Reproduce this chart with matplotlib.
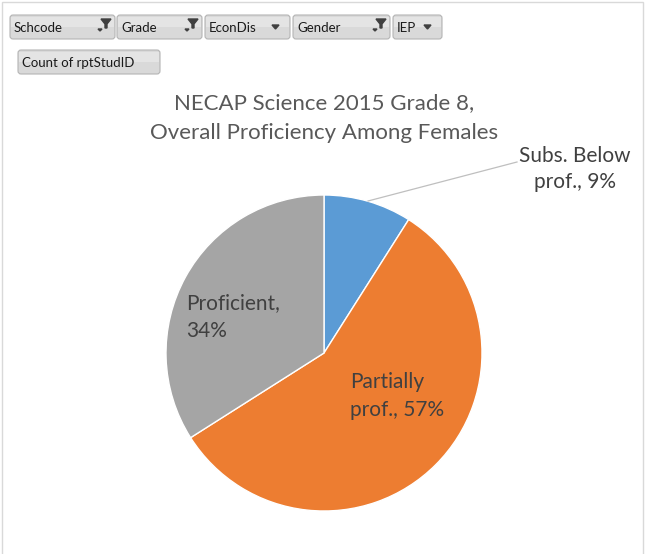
import matplotlib.pyplot as plt
from matplotlib.patches import FancyBboxPatch, Rectangle, Polygon

plt.rcParams['font.family'] = ['Lato', 'DejaVu Sans']

# Data
labels = ['Subs. Below\nprof., 9%', 'Partially\nprof., 57%', 'Proficient,\n34%']
shares = [9, 57, 34]
colors = ['#5B9BD5', '#ED7D31', '#A5A5A5']
title = 'NECAP Science 2015 Grade 8,\nOverall Proficiency Among Females'

# Pivot field buttons
fields = ['Schcode', 'Grade', 'EconDis', 'Gender', 'IEP']
filtered = [True, True, False, True, False]
value_field = 'Count of rptStudID'

W, H = 645, 554
fig = plt.figure(figsize=(W / 100, H / 100), dpi=100)
ax = fig.add_axes([0, 0, 1, 1])


def Y(py):
    # pixel row -> data y
    return H - py


# Pie
cx, cy, r = 324, Y(353), 158
wedges, _ = ax.pie(shares, colors=colors, startangle=90, counterclock=False,
                   center=(cx, cy), radius=r, frame=True,
                   wedgeprops=dict(edgecolor='white', linewidth=1))

ax.set_xlim(0, W)
ax.set_ylim(0, H)
ax.set_aspect('equal')
ax.axis('off')

# outer border
ax.add_patch(Rectangle((2, Y(H + 10)), W - 4, H + 8, fill=False,
                       edgecolor='#d9d9d9', linewidth=1))

# Title
ax.text(324, Y(118), title, ha='center', va='center', fontsize=16,
        color='#595959', linespacing=1.6)

# Data labels
txt_col = '#404040'
ax.text(186, Y(317), labels[2], ha='left', va='center', fontsize=15,
        color=txt_col, linespacing=1.45)
ax.text(350, Y(396), labels[1], ha='left', va='center', fontsize=15,
        color=txt_col, linespacing=1.45)
ax.text(575, Y(169), labels[0], ha='center', va='center', fontsize=15,
        color=txt_col, linespacing=1.4)
# leader line for the small slice
ax.plot([368, 517], [Y(201), Y(162)], color='#bfbfbf', linewidth=0.9)

# Field buttons
btn_x = [10, 117, 205, 293, 393]
btn_w = [105, 85, 85, 97, 49]


def button(x, y, w, h, text):
    ax.add_patch(FancyBboxPatch((x, Y(y + h)), w, h,
                                boxstyle='round,pad=0,rounding_size=3',
                                facecolor='#d9d9d9', edgecolor='#b4b4b4',
                                linewidth=0.8))
    ax.add_patch(Rectangle((x + 1, Y(y + h / 2)), w - 2, h / 2 - 2,
                           facecolor='#e4e4e4', edgecolor='none'))
    ax.text(x + 4, Y(y + h / 2 + 1), text, ha='left', va='center',
            fontsize=9.5, color='#1a1a1a')


for name, x, w, filt in zip(fields, btn_x, btn_w, filtered):
    button(x, 15, w, 24, name)
    if filt:
        # small dropdown arrow + funnel
        ax.add_patch(Polygon([[x + w - 17, Y(29)], [x + w - 13, Y(29)],
                              [x + w - 15, Y(31)]], closed=True,
                             color='#404040'))
        ax.add_patch(Polygon([[x + w - 14, Y(19)], [x + w - 4, Y(19)],
                              [x + w - 8, Y(24)], [x + w - 8, Y(28)],
                              [x + w - 10, Y(28)], [x + w - 10, Y(24)]],
                             closed=True, color='#404040'))
    else:
        ax.add_patch(Polygon([[x + w - 18, Y(25)], [x + w - 11, Y(25)],
                              [x + w - 14.5, Y(29)]], closed=True,
                             color='#404040'))

button(18, 50, 142, 24, value_field)

fig.savefig('out.png', dpi=100)
